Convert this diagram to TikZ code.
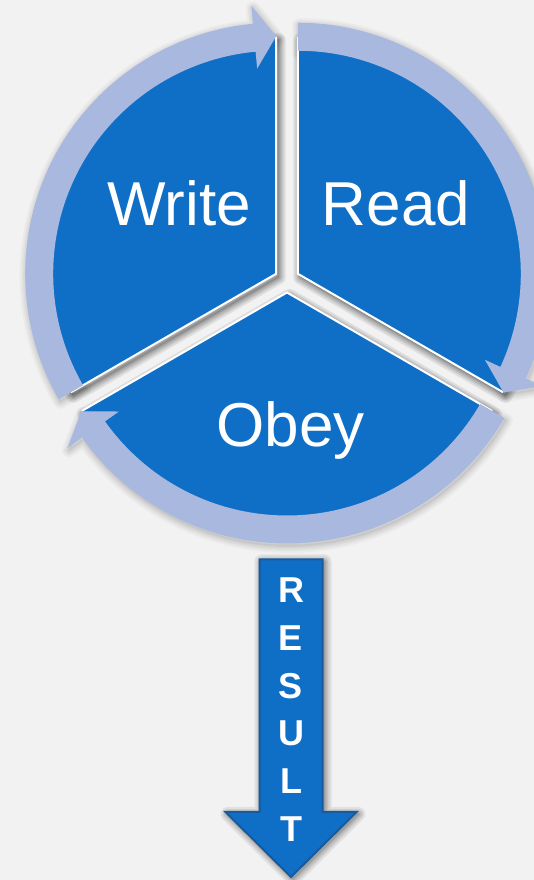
\documentclass[tikz,border=0pt]{standalone}
\usepackage{fontspec}
\setmainfont{Liberation Sans}
\definecolor{bg}{HTML}{F2F2F2}
\definecolor{segblue}{HTML}{0F6FC6}
\definecolor{ringblue}{HTML}{A9B8DF}
\definecolor{rimblue}{HTML}{185A9D}
\newcommand\softshadow[2][0.06]{%
  \fill[black,opacity=#1] #2;
  \foreach \w in {2,4,7,10,14} {\draw[black,opacity=#1,line width=\w pt,line join=round] #2;}%
}
\newcommand\sectorpath[2]{(0,0) -- (#1:237) arc[start angle=#1, end angle=#2, radius=237] -- cycle}
\newcommand\arrowpath[2]{(#1:223) arc[start angle=#1, end angle=#2+5.3, radius=223] -- (#2+5.3:206) -- (#2:237.5) -- (#2+5.3:269) -- (#2+5.3:251) arc[start angle=#2+5.3, end angle=#1, radius=251] -- cycle}
\newcommand\resultpath{(259.5,320.5) -- (322.5,320.5) -- (322.5,68) -- (356.5,68) -- (291,3) -- (225.5,68) -- (259.5,68) -- cycle}
\tikzset{
  bigtxt/.style={text=white, inner sep=0pt, font=\fontsize{62}{62}\selectfont},
  lettr/.style={text=white, inner sep=0pt, font=\bfseries\fontsize{36}{36}\selectfont},
  segment/.style={fill=segblue},
  edge/.style={draw=white, line width=2pt, line join=miter},
  ringarrow/.style={fill=ringblue}
}
\begin{document}
\begin{tikzpicture}[x=1pt,y=1pt]
\useasboundingbox (0,0) rectangle (534,880);
\fill[bg] (0,0) rectangle (534,880);
\clip (0,0) rectangle (534,880);
% arrow shadows (faint)
\begin{scope}[shift={(276.2+1.5,606.25-2.5)}]\softshadow[0.03]{\arrowpath{210}{90}}\end{scope}
\begin{scope}[shift={(297.8+1.5,606.25-2.5)}]\softshadow[0.03]{\arrowpath{90}{-30}}\end{scope}
\begin{scope}[shift={(287+1.5,587.5-2.5)}]\softshadow[0.03]{\arrowpath{-30}{-150}}\end{scope}
% sector shadows
\begin{scope}[shift={(276.2+2.5,606.25-3.5)}]\softshadow[0.085]{\sectorpath{90}{210}}\end{scope}
\begin{scope}[shift={(297.8+2.5,606.25-3.5)}]\softshadow[0.085]{\sectorpath{-30}{90}}\end{scope}
\begin{scope}[shift={(287+2.5,587.5-3.5)}]\softshadow[0.085]{\sectorpath{210}{330}}\end{scope}
% sectors
\begin{scope}[shift={(276.2,606.25)}]
  \fill[segment] \sectorpath{90}{210};
  \draw[edge] (90:237) -- (0,0) -- (210:237);
\end{scope}
\begin{scope}[shift={(297.8,606.25)}]
  \fill[segment] \sectorpath{-30}{90};
  \draw[edge] (90:237) -- (0,0) -- (-30:237);
\end{scope}
\begin{scope}[shift={(287,587.5)}]
  \fill[segment] \sectorpath{210}{330};
  \draw[edge] (210:237) -- (0,0) -- (330:237);
\end{scope}
% ring arrows
\begin{scope}[shift={(276.2,606.25)}]\fill[ringarrow] \arrowpath{210}{90};\end{scope}
\begin{scope}[shift={(297.8,606.25)}]\fill[ringarrow] \arrowpath{90}{-30};\end{scope}
\begin{scope}[shift={(287,587.5)}]\fill[ringarrow] \arrowpath{-30}{-150};\end{scope}
% labels
\node[bigtxt, anchor=base] (write) at (179,654) {Write};
\node[bigtxt, anchor=base] (read) at (396,654) {Read};
\node[bigtxt, anchor=base] (obey) at (290.5,433) {Obey};
% result arrow
\begin{scope}[shift={(2,-2)}]\softshadow[0.07]{\resultpath}\end{scope}
\fill[segblue, draw=rimblue, line width=2pt, line join=miter] \resultpath;
\foreach \l [count=\i] in {R,E,S,U,L,T}
  \node[lettr] (res\i) at (291,{289.5-47.7*(\i-1)}) {\l};
\end{tikzpicture}
\end{document}
